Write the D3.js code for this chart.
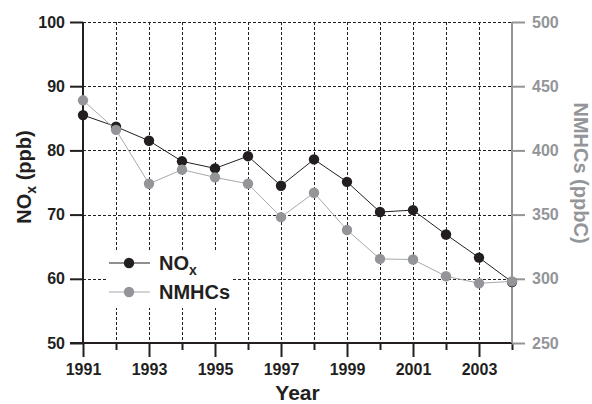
<!DOCTYPE html>
<html>
<head>
<meta charset="utf-8">
<script src="https://cdn.jsdelivr.net/npm/d3@7"></script>
<style>
  html, body { margin: 0; padding: 0; background: #fff; }
  svg { display: block; font-family: "Liberation Sans", Arial, Helvetica, sans-serif; font-weight: bold; }
</style>
</head>
<body>
<svg id="chart" width="592" height="404"></svg>
<script>
// Annual mean concentrations
const years = [1991, 1992, 1993, 1994, 1995, 1996, 1997, 1998, 1999, 2000, 2001, 2002, 2003, 2004];
const noxPpb = [85.5, 83.7, 81.5, 78.3, 77.2, 79.1, 74.5, 78.6, 75.1, 70.4, 70.7, 66.9, 63.3, 59.5];
const nmhcPpbC = [439, 416, 374, 385, 379, 374, 348, 367, 338, 315.5, 315, 302, 296.5, 298];

const leftTicks = [50, 60, 70, 80, 90, 100];
const rightTicks = [250, 300, 350, 400, 450, 500];
const yearLabels = [1991, 1993, 1995, 1997, 1999, 2001, 2003];

const dark = "#231f20";
const grey = "#939598";
const greyLine = "#a7a9ac";

const svg = d3.select("#chart");
const plot = { left: 83, right: 512, top: 22, bottom: 343 };

const x = d3.scaleLinear().domain([1991, 2004]).range([plot.left, plot.right]);
const yL = d3.scaleLinear().domain([50, 100]).range([plot.bottom, plot.top]);
const yR = d3.scaleLinear().domain([250, 500]).range([plot.bottom, plot.top]);

// Dashed grid
const grid = svg.append("g").attr("stroke", dark).attr("stroke-width", 1).attr("stroke-dasharray", "3,2");
grid.selectAll("line.h").data(leftTicks.filter(d => d > 50)).join("line")
  .attr("class", "h")
  .attr("x1", plot.left).attr("x2", plot.right)
  .attr("y1", d => Math.round(yL(d)) + 0.5).attr("y2", d => Math.round(yL(d)) + 0.5);
grid.selectAll("line.v").data(years.filter(d => d > 1991 && d < 2004)).join("line")
  .attr("class", "v")
  .attr("x1", d => Math.round(x(d)) + 0.5).attr("x2", d => Math.round(x(d)) + 0.5)
  .attr("y1", plot.top).attr("y2", plot.bottom);

// Legend background knocks out the grid behind it
const legend = svg.append("g");
legend.append("rect").attr("x", 107).attr("y", 250).attr("width", 126).attr("height", 58).attr("fill", "#fff");

// Left axis (NOx)
const axL = svg.append("g").attr("transform", `translate(${plot.left},0)`)
  .call(d3.axisLeft(yL).tickValues(leftTicks).tickSize(13).tickPadding(5).tickFormat(d3.format("d")));
axL.select(".domain").attr("stroke", dark).attr("stroke-width", 2).attr("d", `M0,${plot.top}V${plot.bottom}`);
axL.selectAll(".tick line").attr("stroke", dark).attr("stroke-width", 2);
axL.selectAll(".tick text").attr("fill", dark).attr("font-size", 16).attr("font-weight", "bold")
  .attr("font-family", "Liberation Sans, Arial, sans-serif");

// Bottom axis (years), long ticks on labelled years
const axB = svg.append("g").attr("transform", `translate(0,${plot.bottom})`)
  .call(d3.axisBottom(x).tickValues(years).tickSize(7).tickFormat(""));
axB.select(".domain").attr("stroke", dark).attr("stroke-width", 2).attr("d", `M${plot.left - 13},0H${plot.right}`);
axB.selectAll(".tick line").attr("stroke", dark).attr("stroke-width", 2)
  .attr("y2", d => yearLabels.includes(d) ? 14 : 7);
axB.selectAll(".tick").filter(d => yearLabels.includes(d)).append("text")
  .attr("y", 32).attr("text-anchor", "middle").attr("fill", dark)
  .attr("font-size", 16).attr("font-weight", "bold")
  .text(d => d);

// Right axis (NMHCs)
const axR = svg.append("g").attr("transform", `translate(${plot.right},0)`)
  .call(d3.axisRight(yR).tickValues(rightTicks).tickSize(13).tickPadding(7).tickFormat(d3.format("d")));
axR.select(".domain").attr("stroke", grey).attr("stroke-width", 2).attr("d", `M0,${plot.top}V${plot.bottom}`);
axR.selectAll(".tick line").attr("stroke", grey).attr("stroke-width", 2);
axR.selectAll(".tick text").attr("fill", grey).attr("font-size", 16).attr("font-weight", "bold")
  .attr("font-family", "Liberation Sans, Arial, sans-serif");

// Axis titles
const tL = svg.append("text").attr("transform", "translate(31,177) rotate(-90)")
  .attr("text-anchor", "middle").attr("fill", dark).attr("font-size", 20);
tL.append("tspan").text("NO");
tL.append("tspan").attr("font-size", 14).attr("dy", 5).text("x");
tL.append("tspan").attr("dy", -5).text(" (ppb)");

svg.append("text").attr("transform", "translate(574,173) rotate(90)")
  .attr("text-anchor", "middle").attr("fill", grey).attr("font-size", 20)
  .text("NMHCs (ppbC)");

svg.append("text").attr("x", (plot.left + plot.right) / 2).attr("y", 400)
  .attr("text-anchor", "middle").attr("fill", dark).attr("font-size", 21)
  .text("Year");

// Series
const noxLine = d3.line().x((d, i) => x(years[i])).y(d => yL(d));
const nmhcLine = d3.line().x((d, i) => x(years[i])).y(d => yR(d));

svg.append("path").datum(noxPpb).attr("d", noxLine).attr("fill", "none").attr("stroke", dark).attr("stroke-width", 1);
svg.append("g").selectAll("circle").data(noxPpb).join("circle")
  .attr("cx", (d, i) => x(years[i])).attr("cy", d => yL(d)).attr("r", 5.2).attr("fill", dark);

svg.append("path").datum(nmhcPpbC).attr("d", nmhcLine).attr("fill", "none").attr("stroke", greyLine).attr("stroke-width", 1);
svg.append("g").selectAll("circle").data(nmhcPpbC).join("circle")
  .attr("cx", (d, i) => x(years[i])).attr("cy", d => yR(d)).attr("r", 5.2).attr("fill", grey);

// Legend entries
const entries = [
  { name: "NO", sub: "x", color: dark, line: dark, y: 263 },
  { name: "NMHCs", sub: null, color: grey, line: greyLine, y: 292 }
];
entries.forEach(e => {
  legend.append("line").attr("x1", 109).attr("x2", 150).attr("y1", e.y).attr("y2", e.y)
    .attr("stroke", e.line).attr("stroke-width", 1);
  legend.append("circle").attr("cx", 129).attr("cy", e.y).attr("r", 5.2).attr("fill", e.color);
  const t = legend.append("text").attr("x", 159).attr("y", e.y + 7).attr("fill", dark).attr("font-size", 20);
  t.append("tspan").text(e.name);
  if (e.sub) t.append("tspan").attr("font-size", 14).attr("dy", 5).text(e.sub);
});
</script>
</body>
</html>
